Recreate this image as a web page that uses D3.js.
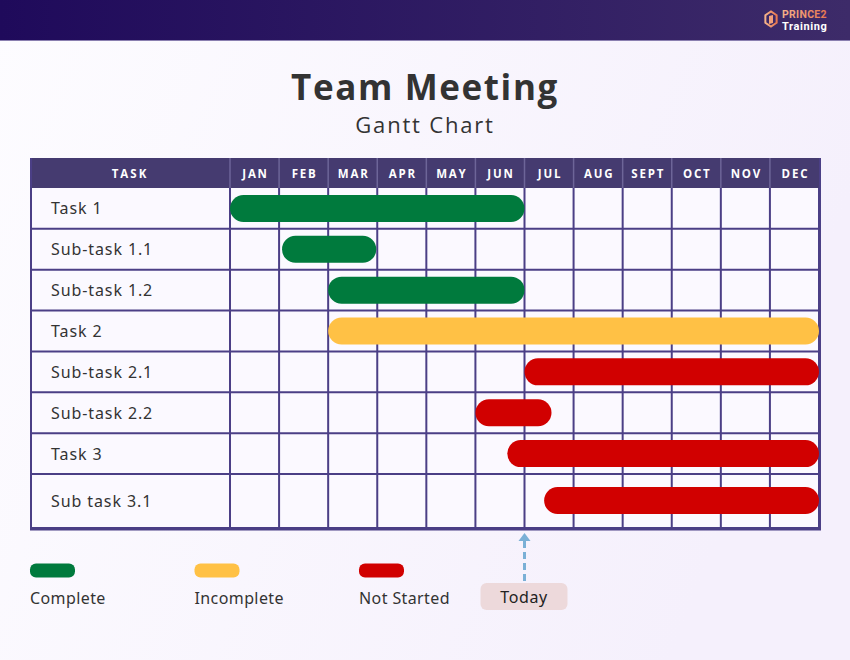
<!DOCTYPE html>
<html><head><meta charset="utf-8">
<script src="https://cdn.jsdelivr.net/npm/d3@7"></script>
<style>
html,body{margin:0;padding:0;}
body{width:850px;height:660px;overflow:hidden;}
</style></head>
<body>
<svg id="chart" width="850" height="660"></svg>
<script>
// ---- data ----
const months = ["JAN","FEB","MAR","APR","MAY","JUN","JUL","AUG","SEPT","OCT","NOV","DEC"];
const tasks = ["Task 1","Sub-task 1.1","Sub-task 1.2","Task 2","Sub-task 2.1","Sub-task 2.2","Task 3","Sub task 3.1"];
const starts = [0, 1.06, 2, 2, 6, 5, 5.65, 6.4];
const ends   = [6, 2.98, 6, 12, 12, 6.55, 12, 12];
const status = ["Complete","Complete","Complete","Incomplete","Not Started","Not Started","Not Started","Not Started"];
const legendItems = ["Complete","Incomplete","Not Started"];
const todayMonth = 6;

const colors = {"Complete":"#007a3d","Incomplete":"#ffc145","Not Started":"#d10000"};

const svg = d3.select("#chart");
const defs = svg.append("defs");
const bgGrad = defs.append("linearGradient").attr("id","bg").attr("x1","0").attr("y1","0").attr("x2","1").attr("y2","0.3");
bgGrad.append("stop").attr("offset","0").attr("stop-color","#fdfcff");
bgGrad.append("stop").attr("offset","1").attr("stop-color","#f5f0fc");
const topGrad = defs.append("linearGradient").attr("id","topbar").attr("x1","0").attr("x2","1");
topGrad.append("stop").attr("offset","0").attr("stop-color","#1f0a5b");
topGrad.append("stop").attr("offset","1").attr("stop-color","#3d2b69");
const logoGrad = defs.append("linearGradient").attr("id","logo").attr("x1","0").attr("x2","1");
logoGrad.append("stop").attr("offset","0").attr("stop-color","#f6b38a");
logoGrad.append("stop").attr("offset","1").attr("stop-color","#e8774f");

svg.append("rect").attr("width",850).attr("height",660).attr("fill","url(#bg)");
svg.append("rect").attr("width",850).attr("height",40).attr("fill","url(#topbar)");
svg.append("rect").attr("y",40).attr("width",850).attr("height",1).attr("fill","#8a7fb0");

// logo
const logo = svg.append("g").attr("transform","translate(771,19)");
const hex = d3.range(6).map(i=>{const a=Math.PI/3*i+Math.PI/6;return [6.5*Math.cos(a),7.5*Math.sin(a)];});
logo.append("path").attr("d","M"+hex.map(p=>p.join(",")).join("L")+"Z").attr("fill","none").attr("stroke","url(#logo)").attr("stroke-width",2);
logo.append("path").attr("d","M-2,-3L2,-4L2,4L-2,5Z").attr("fill","#f2a07a");
svg.append("text").attr("x",782).attr("y",18).attr("font-family","Roboto, sans-serif").attr("font-weight",700).attr("font-size",10.5).attr("letter-spacing","0.3px").attr("fill","url(#logo)").text("PRINCE2");
svg.append("text").attr("x",782).attr("y",29.5).attr("font-family","Roboto, sans-serif").attr("font-weight",700).attr("font-size",11).attr("letter-spacing","0.6px").attr("fill","#ffffff").text("Training");

// title
svg.append("text").attr("x",425).attr("y",100).attr("text-anchor","middle")
  .attr("font-family","'Open Sans', sans-serif").attr("font-weight",700).attr("font-size",35)
  .attr("letter-spacing","1.6px").attr("fill","#333333").text("Team Meeting");
svg.append("text").attr("x",425).attr("y",133).attr("text-anchor","middle")
  .attr("font-family","'Open Sans', sans-serif").attr("font-weight",400).attr("font-size",22)
  .attr("letter-spacing","1.8px").attr("fill","#333333").text("Gantt Chart");

// layout
const left = 30, taskW = 200, right = 820;
const headTop = 158, headBot = 188, bodyBot = 527;
const x = d3.scaleLinear().domain([0,12]).range([left+taskW, right-1]);
const rowH = 40.86;
const rowTop = i => headBot + i*rowH;
const rowBot = i => i === tasks.length-1 ? bodyBot : headBot + (i+1)*rowH;
const rowMid = i => (rowTop(i)+rowBot(i))/2;

// body background
svg.append("rect").attr("x",left).attr("y",headBot).attr("width",right-left).attr("height",bodyBot-headBot).attr("fill","#fbf9ff");
// header
svg.append("rect").attr("x",left).attr("y",headTop).attr("width",right-left).attr("height",headBot-headTop).attr("fill","#453b70");
svg.append("text").attr("x",left+taskW/2).attr("y",178).attr("text-anchor","middle")
  .attr("font-family","'Open Sans', sans-serif").attr("font-weight",700).attr("font-size",11.5)
  .attr("letter-spacing","2px").attr("fill","#ffffff").text("TASK");
svg.selectAll(".mon").data(months).enter().append("text")
  .attr("x",(d,i)=>(x(i)+x(i+1))/2+1).attr("y",178).attr("text-anchor","middle")
  .attr("font-family","'Open Sans', sans-serif").attr("font-weight",700).attr("font-size",11.5)
  .attr("letter-spacing","1.8px").attr("fill","#ffffff").text(d=>d);
// header separators
svg.selectAll(".hsep").data(d3.range(0,12)).enter().append("line")
  .attr("x1",d=>x(d)).attr("x2",d=>x(d)).attr("y1",headTop).attr("y2",headBot)
  .attr("stroke","#6d6598").attr("stroke-width",1.5);

// grid
const gridColor = "#4b3f86";
svg.selectAll(".vline").data(d3.range(0,13)).enter().append("line")
  .attr("x1",d=>x(d)).attr("x2",d=>x(d)).attr("y1",headBot).attr("y2",bodyBot)
  .attr("stroke",gridColor).attr("stroke-width",2);
svg.append("line").attr("x1",left+1).attr("x2",left+1).attr("y1",headTop).attr("y2",bodyBot).attr("stroke",gridColor).attr("stroke-width",2);
svg.append("line").attr("x1",right).attr("x2",right).attr("y1",headTop).attr("y2",bodyBot).attr("stroke",gridColor).attr("stroke-width",2);
svg.selectAll(".hline").data(d3.range(1,tasks.length)).enter().append("line")
  .attr("x1",left).attr("x2",right).attr("y1",d=>rowTop(d)).attr("y2",d=>rowTop(d))
  .attr("stroke",gridColor).attr("stroke-width",2);
svg.append("rect").attr("x",left).attr("y",bodyBot).attr("width",right-left+1).attr("height",3.5).attr("fill","#4a3e85");

// task labels
svg.selectAll(".tl").data(tasks).enter().append("text")
  .attr("x",51).attr("y",(d,i)=>rowMid(i)+6)
  .attr("font-family","'Noto Sans', sans-serif").attr("font-size",16).attr("letter-spacing","0.9px")
  .attr("fill","#333333").text(d=>d);

// bars
const barH = 27;
svg.selectAll(".bar").data(tasks).enter().append("rect")
  .attr("x",(d,i)=>x(starts[i])).attr("width",(d,i)=>x(ends[i])-x(starts[i]))
  .attr("y",(d,i)=>rowMid(i)-barH/2).attr("height",barH)
  .attr("rx",barH/2).attr("fill",(d,i)=>colors[status[i]]);

// today marker
const tx = x(todayMonth);
svg.append("line").attr("x1",tx).attr("x2",tx).attr("y1",541).attr("y2",581)
  .attr("stroke","#7ab0d6").attr("stroke-width",3).attr("stroke-dasharray","7,4");
svg.append("path").attr("d",`M${tx-6},541L${tx},533L${tx+6},541Z`).attr("fill","#7ab0d6");
svg.append("rect").attr("x",tx-44).attr("y",583).attr("width",87).attr("height",27).attr("rx",6).attr("fill","#edd9db");
svg.append("text").attr("x",tx-0.5).attr("y",602.5).attr("text-anchor","middle")
  .attr("font-family","'Noto Sans', sans-serif").attr("font-size",16).attr("letter-spacing","0.6px")
  .attr("fill","#222222").text("Today");

// legend
const lx = d3.scalePoint().domain(legendItems).range([30,359]);
const lgd = svg.selectAll(".lg").data(legendItems).enter().append("g").attr("transform",d=>`translate(${lx(d)},0)`);
lgd.append("rect").attr("x",0).attr("y",563.5).attr("width",45).attr("height",14).attr("rx",6).attr("fill",d=>colors[d]);
lgd.append("text").attr("x",0).attr("y",603.5).attr("font-family","'Noto Sans', sans-serif").attr("font-size",16)
  .attr("letter-spacing","0.4px").attr("fill","#333333").text(d=>d);
</script>
</body></html>
